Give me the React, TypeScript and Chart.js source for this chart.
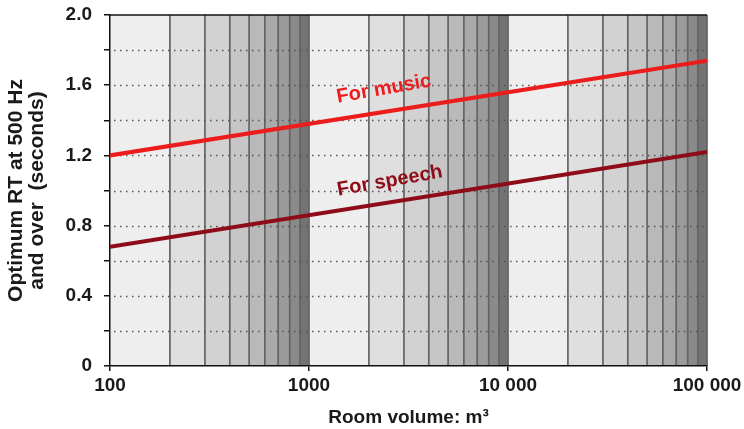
import React, { useEffect, useRef } from 'react';
import { Chart, registerables } from 'chart.js';

Chart.register(...registerables);

// ---- data ----
const volumes = [100, 100000];
const musicRT = [1.2, 1.74];
const speechRT = [0.68, 1.22];

const xTickValues = [100, 1000, 10000, 100000];
const xTickLabels = ['100', '1000', '10 000', '100 000'];
const yTickValues = [0, 0.2, 0.4, 0.6, 0.8, 1.0, 1.2, 1.4, 1.6, 1.8, 2.0];
const yTickLabels = ['0', '', '0.4', '', '0.8', '', '1.2', '', '1.6', '', '2.0'];
const decadeStarts = [100, 1000, 10000];
const multiples = [1, 2, 3, 4, 5, 6, 7, 8, 9];

const musicLabel = 'For music';
const musicLabelAt = { volume: 2380, rt: 1.578 };
const speechLabel = 'For speech';
const speechLabelAt = { volume: 2550, rt: 1.054 };

const yTitle = ['Optimum RT at 500 Hz', 'and over  (seconds)'];
const xTitle = 'Room volume: m\u00B3';

// ---- styles ----
const bandColors = ['#eeeeee', '#dfdfdf', '#d2d2d2', '#c6c6c6', '#b9b9b9', '#aaaaaa', '#9b9b9b', '#8a8a8a', '#737373'];
const FONT = '"Liberation Sans", Arial, sans-serif';
const MUSIC_COLOR = '#ec1c1c';
const SPEECH_COLOR = '#8e0c18';
const TEXT_COLOR = '#1a1a1a';

const backgroundPlugin = {
  id: 'bands',
  beforeDraw(chart: any) {
    const { ctx, chartArea, scales } = chart;
    const xs = scales.x;
    const ys = scales.y;
    ctx.save();
    // bands
    decadeStarts.forEach((d) => {
      multiples.forEach((m, i) => {
        const x0 = xs.getPixelForValue(m * d);
        const x1 = xs.getPixelForValue((m + 1) * d);
        ctx.fillStyle = bandColors[i];
        ctx.fillRect(x0, chartArea.top, x1 - x0, chartArea.bottom - chartArea.top);
      });
    });
    // vertical lines at multiples
    ctx.strokeStyle = '#646464';
    ctx.lineWidth = 1.7;
    decadeStarts.forEach((d) => {
      multiples.forEach((m) => {
        const x = xs.getPixelForValue((m + 1) * d);
        ctx.beginPath();
        ctx.moveTo(x, chartArea.top);
        ctx.lineTo(x, chartArea.bottom);
        ctx.stroke();
      });
    });
    // dotted horizontal gridlines
    ctx.strokeStyle = '#555555';
    ctx.lineWidth = 1.5;
    ctx.setLineDash([1.5, 4.5]);
    yTickValues.forEach((v) => {
      if (v <= 0 || v >= 2) return;
      const y = Math.round(ys.getPixelForValue(v)) + 0.5;
      ctx.beginPath();
      ctx.moveTo(chartArea.left + 4, y);
      ctx.lineTo(chartArea.right, y);
      ctx.stroke();
    });
    ctx.setLineDash([]);
    // top border
    ctx.strokeStyle = '#111111';
    ctx.lineWidth = 1.5;
    ctx.beginPath();
    ctx.moveTo(chartArea.left, chartArea.top);
    ctx.lineTo(chartArea.right, chartArea.top);
    ctx.stroke();
    ctx.restore();
  },
  afterDatasetsDraw(chart: any) {
    const { ctx, scales } = chart;
    const xs = scales.x;
    const ys = scales.y;
    const draw = (text: string, at: { volume: number; rt: number }, color: string) => {
      ctx.save();
      ctx.translate(xs.getPixelForValue(at.volume), ys.getPixelForValue(at.rt));
      ctx.rotate((-10 * Math.PI) / 180);
      ctx.font = `bold 20px ${FONT}`;
      ctx.fillStyle = color;
      ctx.textAlign = 'center';
      ctx.textBaseline = 'middle';
      ctx.fillText(text, 0, 0);
      ctx.restore();
    };
    draw(musicLabel, musicLabelAt, MUSIC_COLOR);
    draw(speechLabel, speechLabelAt, SPEECH_COLOR);
  },
};

export default function App() {
  const canvasRef = useRef<HTMLCanvasElement | null>(null);

  useEffect(() => {
    if (!canvasRef.current) return;
    const chart = new Chart(canvasRef.current, {
      type: 'line',
      data: {
        datasets: [
          {
            label: 'For music',
            data: volumes.map((v, i) => ({ x: v, y: musicRT[i] })),
            borderColor: MUSIC_COLOR,
            borderWidth: 4,
            pointRadius: 0,
            fill: false,
          },
          {
            label: 'For speech',
            data: volumes.map((v, i) => ({ x: v, y: speechRT[i] })),
            borderColor: SPEECH_COLOR,
            borderWidth: 4,
            pointRadius: 0,
            fill: false,
          },
        ],
      },
      options: {
        responsive: false,
        animation: false,
        events: [],
        layout: { padding: { left: 0, top: 15, right: 37, bottom: 0 } },
        plugins: { legend: { display: false }, tooltip: { enabled: false } },
        scales: {
          x: {
            type: 'logarithmic',
            min: 100,
            max: 100000,
            afterBuildTicks: (scale: any) => {
              scale.ticks = xTickValues.map((v) => ({ value: v }));
            },
            afterFit: (scale: any) => {
              scale.height = 63;
              scale.paddingLeft = 0;
              scale.paddingRight = 0;
            },
            ticks: {
              autoSkip: false,
              maxRotation: 0,
              padding: 3,
              color: TEXT_COLOR,
              font: { family: FONT, size: 19, weight: 'bold' },
              callback: (_v: any, i: number) => xTickLabels[i],
            },
            grid: { drawOnChartArea: false, drawTicks: true, tickLength: 5, color: '#111111', lineWidth: 1.5 },
            border: { color: '#111111', width: 1.5 },
            title: {
              display: true,
              text: xTitle,
              color: TEXT_COLOR,
              font: { family: FONT, size: 19, weight: 'bold', lineHeight: 1.2 },
              padding: { top: 0, bottom: 0 },
            },
          },
          y: {
            type: 'linear',
            min: 0,
            max: 2,
            afterBuildTicks: (scale: any) => {
              scale.ticks = yTickValues.map((v) => ({ value: v }));
            },
            afterFit: (scale: any) => {
              scale.width = 110;
              scale.paddingTop = 0;
              scale.paddingBottom = 0;
            },
            ticks: {
              autoSkip: false,
              padding: 12,
              color: TEXT_COLOR,
              font: { family: FONT, size: 19, weight: 'bold' },
              callback: (_v: any, i: number) => yTickLabels[i],
            },
            grid: { drawOnChartArea: false, drawTicks: true, tickLength: 6, color: '#111111', lineWidth: 1.5 },
            border: { color: '#111111', width: 1.5 },
            title: {
              display: true,
              text: yTitle,
              color: TEXT_COLOR,
              font: { family: FONT, size: 21, weight: 'bold', lineHeight: 1.0 },
              padding: { top: 6, bottom: 0 },
            },
          },
        },
      },
      plugins: [backgroundPlugin],
    } as any);
    return () => chart.destroy();
  }, []);

  return (
    <div style={{ position: 'absolute', left: 0, top: 0, width: 744, height: 429, background: '#ffffff' }}>
      <canvas ref={canvasRef} width={744} height={429} style={{ display: 'block' }} />
    </div>
  );
}
